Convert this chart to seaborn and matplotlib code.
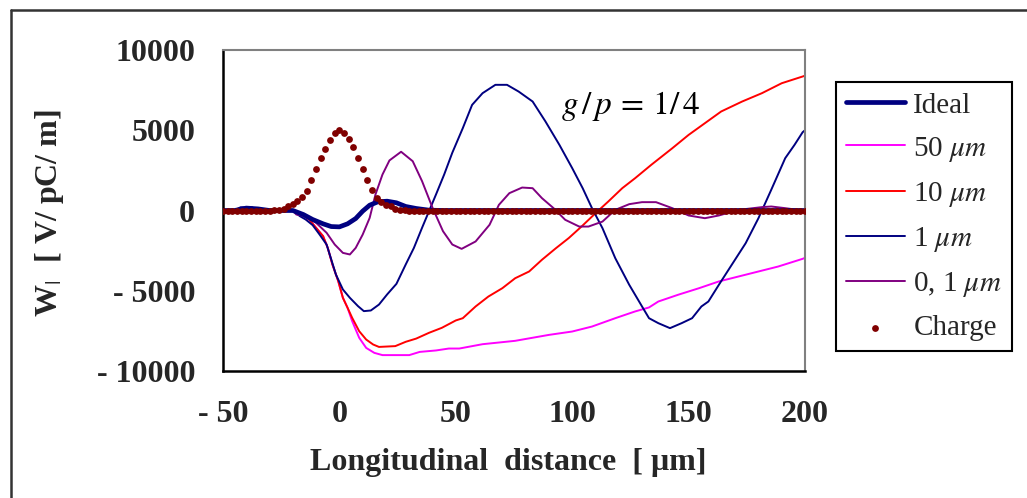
import numpy as np
import matplotlib
matplotlib.use("Agg")
import matplotlib.pyplot as plt
import seaborn as sns
from matplotlib.lines import Line2D

# ---------------- data ----------------
ideal_x = [-50, -45, -40, -35, -30, -20, -15.5, -11.5, -7, -3.5, 0, 3.5, 7, 10, 13, 16.5, 20.5, 24.5, 28.5, 33, 38.5, 45, 200]
ideal_y = [0, 0, 150, 100, 0, 0, -250, -560, -830, -1000, -1020, -830, -500, -40, 330, 540, 580, 480, 250, 125, 20, 0, 0]

um50_x = [-50, -20, -15.5, -13, -10, -7, -5, -3, -0.5, 1.5, 3.5, 5.5, 8.5, 11.5, 15, 18.5, 30, 34.5, 41.5, 47, 51.5,
          61.5, 75.5, 90, 100, 108.5, 118.5, 127, 133, 137, 145.5, 154.5, 163, 171.5, 180, 188.5, 199, 200]
um50_y = [0, 0, -310, -560, -1080, -1600, -2330, -3360, -4400, -5440, -6060, -6900, -7930, -8560, -8870, -9010, -9010,
          -8810, -8720, -8600, -8600, -8330, -8120, -7750, -7540, -7230, -6710, -6290, -6040, -5670, -5250, -4840,
          -4420, -4110, -3800, -3490, -3010, -2950]

um10_x = [-50, -20, -15.5, -13, -10, -7, -5, -3, -0.5, 1.5, 3.5, 5.5, 8.5, 11.5, 14.5, 17, 24, 28.5, 33, 38.5, 44, 50,
          53, 58.5, 64, 70, 75.5, 81.5, 87, 93, 98.5, 104, 110, 115.5, 121.5, 127, 134, 143, 150, 157, 164, 173,
          181.5, 190, 199, 200]
um10_y = [0, 0, -310, -560, -1080, -1600, -2330, -3360, -4400, -5440, -6060, -6690, -7520, -8040, -8350, -8500, -8450,
          -8180, -7980, -7620, -7310, -6850, -6710, -5980, -5360, -4840, -4220, -3800, -3070, -2350, -1720, -1000,
          -170, 560, 1390, 2010, 2850, 3880, 4710, 5440, 6170, 6790, 7310, 7930, 8350, 8400]

um1_x = [-50, -45, -42.5, -37.5, -35, -20, -17, -14.5, -11.5, -8.5, -5.5, -3.5, -1.5, 1.5, 4.5, 8, 10.5, 13.5, 17,
         20.5, 24.5, 28.5, 32, 35.5, 38.5, 41.5, 45, 48.5, 53, 57, 61.5, 67, 72, 77, 83, 88.5, 94.5, 100, 104.5,
         108.5, 113, 118.5, 124.5, 130, 133, 137, 142, 147, 151.5, 155.5, 158.5, 163, 168.5, 174.5, 180, 185.5,
         191.5, 195.5, 199, 200]
um1_y = [0, 0, 200, 200, 0, 0, -350, -560, -910, -1500, -2120, -3050, -3990, -4920, -5440, -5960, -6270, -6230,
         -5860, -5230, -4570, -3360, -2330, -1080, -40, 1000, 2240, 3600, 5130, 6580, 7310, 7830, 7830, 7410, 6790,
         5550, 4090, 2640, 1390, 145, -1100, -2970, -4630, -5980, -6710, -7020, -7330, -7020, -6710, -5980, -5670,
         -4630, -3390, -2040, -480, 1290, 3260, 4090, 4880, 5000]

um01_x = [-50, -20, -18.5, -14.5, -10, -5.5, -2, 1.5, 4.5, 7, 10, 13, 15.5, 18.5, 21.5, 26.5, 31.5, 35.5, 40, 44.5,
          48.5, 52.5, 58.5, 64.5, 68.5, 73, 78.5, 83, 87, 92, 97, 103, 107, 113, 118.5, 124.5, 130, 136, 143, 150,
          157, 163, 171.5, 181.5, 185.5, 191.5, 199, 200]
um01_y = [0, 0, -250, -350, -770, -1390, -2120, -2640, -2740, -2330, -1500, -460, 1000, 2240, 3120, 3660, 3070, 1830,
          170, -1290, -2120, -2390, -1930, -890, 350, 1080, 1430, 1390, 770, 145, -580, -1000, -1000, -690, 40, 395,
          520, 520, 145, -310, -480, -310, 40, 210, 250, 145, 0, 0]

charge_x = list(range(-50, 201, 2))
charge_y = [0, 0, 0, 0, 0, 0, 0, 0, 0, 0,            # -50 .. -32
            0, 30, 60, 120, 250, 420, 580, 820, 1200, 1900,   # -30 .. -12
            2600, 3250, 3850, 4400, 4850, 5000, 4850, 4450, 3950, 3300,  # -10 .. 8
            2600, 1900, 1250, 800, 550, 350, 250, 120, 60, 30,   # 10 .. 28
            0, 0, 0, 0, 0, 0, 0, 0, 0, 0,            # 30 .. 48
            0, 0, 0, 0, 0, 0, 0, 0, 0, 0,            # 50 .. 68
            0, 0, 0, 0, 0, 0, 0, 0, 0, 0,            # 70 .. 88
            0, 0, 0, 0, 0, 0, 0, 0, 0, 0,            # 90 .. 108
            0, 0, 0, 0, 0, 0, 0, 0, 0, 0,            # 110 .. 128
            0, 0, 0, 0, 0, 0, 0, 0, 0, 0,            # 130 .. 148
            0, 0, 0, 0, 0, 0, 0, 0, 0, 0,            # 150 .. 168
            0, 0, 0, 0, 0, 0, 0, 0, 0, 0,            # 170 .. 188
            0, 0, 0, 0, 0, 0]                        # 190 .. 200

xticks = [-50, 0, 50, 100, 150, 200]
xtick_labels = ["- 50", "0", "50", "100", "150", "200"]
yticks = [-10000, -5000, 0, 5000, 10000]
ytick_labels = ["- 10000", "- 5000", "0", "5000", "10000"]

legend_labels = ["Ideal", r"50 $\mu m$", r"10 $\mu m$", r"1 $\mu m$", r"0, 1 $\mu m$", "Charge"]

# ---------------- style ----------------
sns.set_theme(style="white")
plt.rcParams['font.family'] = ['Liberation Serif', 'DejaVu Serif']
plt.rcParams['mathtext.fontset'] = 'stix'

W, H = 1027, 498
fig = plt.figure(figsize=(W / 100, H / 100), dpi=100)
fig.patch.set_facecolor('white')

ax_l, ax_r, ax_t, ax_b = 223, 805, 50, 371
ax = fig.add_axes([ax_l / W, 1 - ax_b / H, (ax_r - ax_l) / W, (ax_b - ax_t) / H])
ax.set_facecolor('white')

navy = '#000080'
sns.lineplot(x=um50_x, y=um50_y, ax=ax, color='#FF00FF', lw=1.4, label=legend_labels[1])
sns.lineplot(x=um10_x, y=um10_y, ax=ax, color='#FF0000', lw=1.4, label=legend_labels[2])
sns.lineplot(x=um1_x, y=um1_y, ax=ax, color=navy, lw=1.4, label=legend_labels[3])
sns.lineplot(x=um01_x, y=um01_y, ax=ax, color='#800080', lw=1.4, label=legend_labels[4])
sns.lineplot(x=ideal_x, y=ideal_y, ax=ax, color=navy, lw=3.4, label=legend_labels[0])
sns.scatterplot(x=charge_x, y=charge_y, ax=ax, color='#800000', s=24, linewidth=0, label=legend_labels[5], zorder=5)

ax.set_xlim(-50, 200)
ax.set_ylim(-10000, 10000)
ax.set_xticks(xticks)
ax.set_xticklabels(xtick_labels)
ax.set_yticks(yticks)
ax.set_yticklabels(ytick_labels)
ax.tick_params(axis='both', direction='in', length=8, width=1, color='black',
               labelsize=23)
ax.tick_params(axis='x', pad=21)
ax.tick_params(axis='y', pad=20)
for lab in ax.get_xticklabels() + ax.get_yticklabels():
    lab.set_fontweight('bold')
ax.set_xlabel('')
ax.set_ylabel('')
for s in ['left', 'bottom']:
    ax.spines[s].set_color('black')
    ax.spines[s].set_linewidth(1.8)
for s in ['top', 'right']:
    ax.spines[s].set_color('#808080')
    ax.spines[s].set_linewidth(1.5)

# annotation
ax.text(125, 6500, r"$g\,/\,p\,=\,1/\,4$", fontsize=24, ha='center', va='center', color='black')

# axis titles
fig.text(508 / W, 1 - 462 / H, "Longitudinal  distance  [ μm]", fontsize=23, fontweight='bold',
         ha='center', va='center')
fig.text(49 / W, 1 - 213 / H, r"W$_{|}$  [ V/ pC/ m]", fontsize=23, fontweight='bold',
         ha='center', va='center', rotation=90)

# legend
handles, labels = ax.get_legend_handles_labels()
order = [labels.index(l) for l in legend_labels]
handles = [handles[i] for i in order]
labels = [labels[i] for i in order]
if ax.get_legend() is not None:
    ax.get_legend().remove()
leg = fig.legend(handles, labels, loc='upper left', bbox_to_anchor=(836 / W, 1 - 82 / H),
                 frameon=True, fancybox=False, framealpha=1, edgecolor='black',
                 fontsize=21, handlelength=2.0, handletextpad=0.3, labelspacing=0.55,
                 borderpad=0.35, borderaxespad=0, scatterpoints=1, markerscale=1.0)
leg.get_frame().set_linewidth(1.5)

# outer chart-area frame (left and top edges)
fig.add_artist(Line2D([11 / W, 11 / W], [0, 1 - 10 / H], color='#333333', lw=1.8, transform=fig.transFigure))
fig.add_artist(Line2D([11 / W, 1], [1 - 10 / H, 1 - 10 / H], color='#333333', lw=1.8, transform=fig.transFigure))

fig.savefig('out.png', dpi=100, facecolor='white')
